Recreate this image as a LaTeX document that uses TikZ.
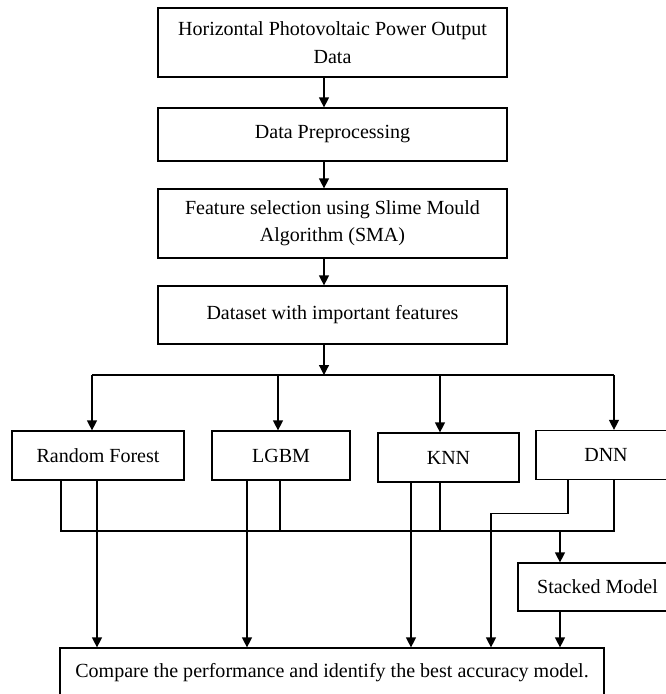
\documentclass[tikz,border=0pt]{standalone}
\usepackage{fontspec}
\setmainfont{Liberation Serif}
\usepackage{tikz}
\usetikzlibrary{arrows.meta,positioning}

\begin{document}
\begin{tikzpicture}[
    box/.style={draw, line width=0.7pt, align=center, font=\fontsize{11.4}{15.6}\selectfont, inner sep=2pt},
    stage/.style={box, minimum width=6.98cm},
    model/.style={box, minimum height=0.98cm},
    link/.style={line width=0.7pt},
    arrow/.style={-{Triangle[length=2mm,width=2mm]}, line width=0.7pt}
]

\useasboundingbox (0,0) rectangle (13.32,-13.88);
\clip (0,0) rectangle (13.32,-13.88);

\node[stage, minimum height=1.38cm] (data) at (6.65,-0.85) {Horizontal Photovoltaic Power Output\\Data};
\node[stage, minimum height=1.06cm] (prep) at (6.65,-2.69) {Data Preprocessing};
\node[stage, minimum height=1.38cm] (sma) at (6.65,-4.47) {Feature selection using Slime Mould\\Algorithm (SMA)};
\node[stage, minimum height=1.16cm] (feat) at (6.65,-6.30) {Dataset with important features};

\node[model, minimum width=3.44cm] (rf) at (1.96,-9.11) {Random Forest};
\node[model, minimum width=2.76cm] (lgbm) at (5.62,-9.11) {LGBM};
\node[model, minimum width=2.82cm] (knn) at (8.97,-9.15) {KNN};
\node[model, minimum width=2.80cm] (dnn) at (12.12,-9.10) {DNN};

\node[box, minimum width=3.18cm, minimum height=0.96cm] (stack) at (11.95,-11.74) {Stacked Model};
\node[box, minimum width=10.88cm, minimum height=0.98cm] (cmp) at (6.64,-13.45) {Compare the performance and identify the best accuracy model.};

\coordinate (fan) at (6.48,-7.5);
\coordinate (bus) at (0,-10.62);

\draw[arrow] ([xshift=-0.17cm]data.south) -- ([xshift=-0.17cm]prep.north);
\draw[arrow] ([xshift=-0.17cm]prep.south) -- ([xshift=-0.17cm]sma.north);
\draw[arrow] ([xshift=-0.17cm]sma.south) -- ([xshift=-0.17cm]feat.north);
\draw[arrow] ([xshift=-0.17cm]feat.south) -- (fan);

% fan out to the four models
\draw[link] ([xshift=-0.12cm]rf.north |- fan) -- ([xshift=0.16cm]dnn.north |- fan);
\draw[arrow] ([xshift=-0.12cm]rf.north |- fan) -- ([xshift=-0.12cm]rf.north);
\draw[arrow] ([xshift=-0.06cm]lgbm.north |- fan) -- ([xshift=-0.06cm]lgbm.north);
\draw[arrow] ([xshift=-0.17cm]knn.north |- fan) -- ([xshift=-0.17cm]knn.north);
\draw[arrow] ([xshift=0.16cm]dnn.north |- fan) -- ([xshift=0.16cm]dnn.north);

% outputs gathered for stacking
\draw[link] ([xshift=-0.74cm]rf.south) |- ([xshift=0.16cm]dnn.south |- bus) -- ([xshift=0.16cm]dnn.south);
\draw[link] ([xshift=-0.02cm]lgbm.south) -- ([xshift=-0.02cm]lgbm.south |- bus);
\draw[link] ([xshift=-0.17cm]knn.south) -- ([xshift=-0.17cm]knn.south |- bus);
\draw[arrow] ([xshift=-0.75cm]stack.north |- bus) -- ([xshift=-0.75cm]stack.north);
\draw[arrow] ([xshift=-0.75cm]stack.south) -- ([xshift=-0.75cm]stack.south |- cmp.north);

% direct outputs to the comparison
\draw[arrow] ([xshift=-0.02cm]rf.south) -- ([xshift=-0.02cm]rf.south |- cmp.north);
\draw[arrow] ([xshift=-0.68cm]lgbm.south) -- ([xshift=-0.68cm]lgbm.south |- cmp.north);
\draw[arrow] ([xshift=-0.75cm]knn.south) -- ([xshift=-0.75cm]knn.south |- cmp.north);
\draw[arrow] ([xshift=-0.76cm]dnn.south) -- ++(0,-0.66) -| ([xshift=3.18cm]cmp.north);
\end{tikzpicture}
\end{document}
